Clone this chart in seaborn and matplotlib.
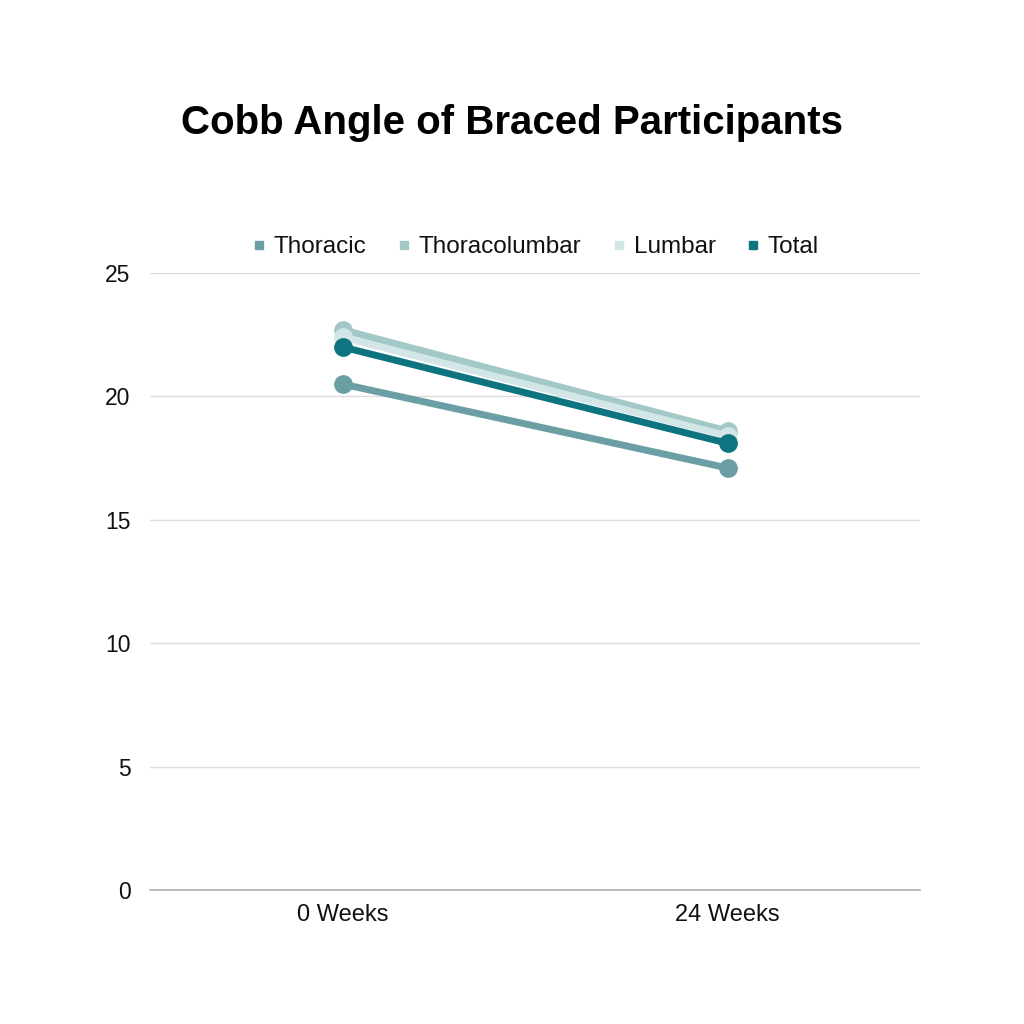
import pandas as pd
import seaborn as sns
import matplotlib.pyplot as plt
from matplotlib.lines import Line2D

# data
timepoints = ["0 Weeks", "24 Weeks"]
series = ["Thoracic", "Thoracolumbar", "Lumbar", "Total"]
thoracic = [20.5, 17.1]
thoracolumbar = [22.7, 18.6]
lumbar = [22.4, 18.4]
total = [22.0, 18.1]
colors = ["#6a9fa3", "#a3c8c8", "#d3e6e6", "#0e7480"]

rows = []
for name, vals in zip(series, [thoracic, thoracolumbar, lumbar, total]):
    for t, v in zip(timepoints, vals):
        rows.append({"Time": t, "Series": name, "Angle": v})
df = pd.DataFrame(rows)

sns.set_theme(style="white")
plt.rcParams["font.family"] = ["Liberation Sans", "DejaVu Sans"]

fig = plt.figure(figsize=(10.24, 10.24), dpi=100)
ax = fig.add_axes([150 / 1024, 1 - 890 / 1024, 770 / 1024, 617 / 1024])

sns.lineplot(data=df, x="Time", y="Angle", hue="Series", hue_order=series,
             palette=colors, linewidth=5, marker="o", markersize=13.5,
             markeredgewidth=0, legend=False, ax=ax, sort=False)

ax.set_xlim(-0.5, 1.5)
ax.set_ylim(0, 25)
ax.set_yticks([0, 5, 10, 15, 20, 25])
ax.yaxis.grid(True, color="#dcdcdc", linewidth=1)
ax.set_axisbelow(True)
for side in ["top", "right", "left"]:
    ax.spines[side].set_visible(False)
ax.spines["bottom"].set_color("#b0b0b0")
ax.spines["bottom"].set_linewidth(1.2)
ax.tick_params(axis="both", length=0, colors="#111111")
ax.tick_params(axis="y", pad=14, labelsize=16.5)
ax.tick_params(axis="x", pad=10, labelsize=17)
ax.set_xlabel("")
ax.set_ylabel("")

handles = [Line2D([0], [0], marker="s", linestyle="", color=c, markersize=5.5)
           for c in colors]
fig.legend(handles, series, loc="center", bbox_to_anchor=(533 / 1024, 1 - 247 / 1024),
           ncol=4, frameon=False, fontsize=17.5, handletextpad=0.1,
           columnspacing=1.05, handlelength=1.0, labelcolor="#111111")

fig.text(0.5, 1 - 123 / 1024, "Cobb Angle of Braced Participants",
         ha="center", va="center", fontsize=29, fontweight="bold", color="black")

fig.savefig("out.png", dpi=100, facecolor="white")
